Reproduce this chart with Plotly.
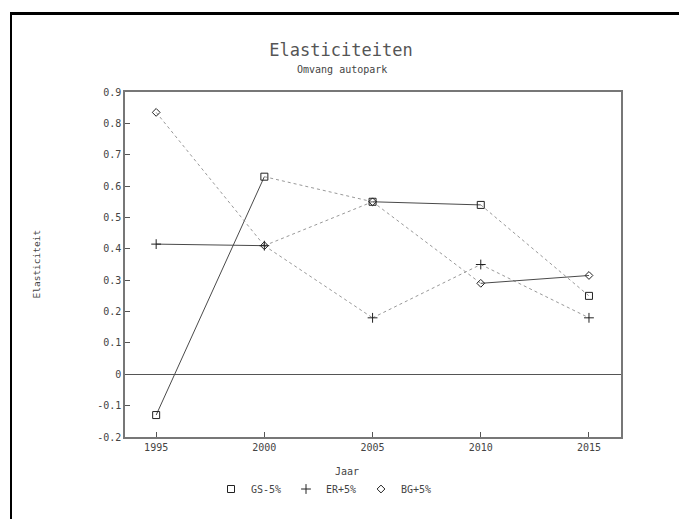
import plotly.graph_objects as go

# Elasticiteiten - omvang autopark
years = [1995, 2000, 2005, 2010, 2015]
gs_values = [-0.13, 0.63, 0.55, 0.54, 0.25]
er_values = [0.415, 0.41, 0.18, 0.35, 0.18]
bg_values = [0.835, 0.41, 0.55, 0.29, 0.315]
series_names = ["GS-5%", "ER+5%", "BG+5%"]
y_ticks = [0.9, 0.8, 0.7, 0.6, 0.5, 0.4, 0.3, 0.2, 0.1, 0.0, -0.1, -0.2]
y_tick_labels = ["0.9", "0.8", "0.7", "0.6", "0.5", "0.4", "0.3", "0.2", "0.1", "0", "-0.1", "-0.2"]

# line style per segment (plotter output mixes solid and dotted strokes)
seg_styles = {
    "GS-5%": ["solid", "dot", "solid", "dot"],
    "ER+5%": ["solid", "dot", "dot", "dot"],
    "BG+5%": ["dot", "dot", "dot", "solid"],
}
seg_colors = {"solid": "#4a4a4a", "dot": "#999999"}
markers = {"GS-5%": "square-open", "ER+5%": "cross-thin-open", "BG+5%": "diamond-open"}
marker_sizes = {"GS-5%": 7, "ER+5%": 7, "BG+5%": 6}

FONT = "DejaVu Sans Mono"
TXT = "#444444"

fig = go.Figure()

for name, vals in zip(series_names, [gs_values, er_values, bg_values]):
    for i in range(len(years) - 1):
        style = seg_styles[name][i]
        fig.add_trace(go.Scatter(
            x=years[i:i + 2], y=vals[i:i + 2], mode="lines",
            line=dict(color=seg_colors[style], width=1, dash=style),
            showlegend=False, hoverinfo="skip",
        ))

for name, vals in zip(series_names, [gs_values, er_values, bg_values]):
    fig.add_trace(go.Scatter(
        x=years, y=vals, mode="markers", name=name,
        marker=dict(symbol=markers[name], size=marker_sizes[name],
                    color="#222", line=dict(color="#222", width=1)),
    ))

# plot area in pixels: x 125..621, y 92..437
L, R, T, B = 125, 621, 92, 437
W, H = 679, 519
def px(x):
    return (x - L) / (R - L)
def py(y):
    return (B - y) / (B - T)

shapes = [
    # outer frame (left and top edges)
    dict(type="rect", xref="paper", yref="paper", x0=px(10), x1=px(12),
         y0=py(12), y1=py(H), line=dict(width=0), fillcolor="black"),
    dict(type="rect", xref="paper", yref="paper", x0=px(10), x1=px(W),
         y0=py(12), y1=py(15), line=dict(width=0), fillcolor="black"),
]

fig.update_layout(
    width=W, height=H,
    margin=dict(l=L, r=W - R, t=T, b=H - B),
    paper_bgcolor="white", plot_bgcolor="white",
    font=dict(family=FONT, color=TXT, size=10),
    title=dict(text="Elasticiteiten", x=341 / W,
               xanchor="center", y=1 - 50 / H, yanchor="middle",
               font=dict(family=FONT, size=17, color="#555")),
    xaxis=dict(range=[1993.56, 2016.48], tickvals=years,
               ticks="inside", ticklen=5, tickcolor="#555",
               showgrid=False, zeroline=False, showline=True, mirror=True,
               linecolor="#777", linewidth=1.5,
               tickfont=dict(family=FONT, size=10, color=TXT)),
    yaxis=dict(range=[-0.2, 0.9], tickvals=y_ticks, ticktext=y_tick_labels,
               ticks="inside", ticklen=5, tickcolor="#555",
               showgrid=False, zeroline=True, zerolinecolor="#555", zerolinewidth=1,
               showline=True, mirror=True, linecolor="#777", linewidth=1.5,
               tickfont=dict(family=FONT, size=10, color=TXT)),
    shapes=shapes,
    annotations=[
        dict(text="Omvang autopark", xref="paper", yref="paper",
             x=px(342), y=py(69), showarrow=False, xanchor="center", yanchor="middle",
             font=dict(family=FONT, size=10, color=TXT)),
        dict(text="Elasticiteit", xref="paper", yref="paper",
             x=px(36), y=0.5, showarrow=False, textangle=-90,
             xanchor="center", yanchor="middle",
             font=dict(family=FONT, size=9.5, color=TXT)),
        dict(text="Jaar", xref="paper", yref="paper",
             x=px(347), y=py(471), showarrow=False, xanchor="center", yanchor="middle",
             font=dict(family=FONT, size=10, color=TXT)),
    ],
    legend=dict(orientation="h", x=px(211), y=py(489), xanchor="left", yanchor="middle",
                font=dict(family=FONT, size=10, color=TXT), bgcolor="rgba(0,0,0,0)",
                entrywidth=30, entrywidthmode="pixels", itemwidth=30),
)

fig.write_html("out.html")
